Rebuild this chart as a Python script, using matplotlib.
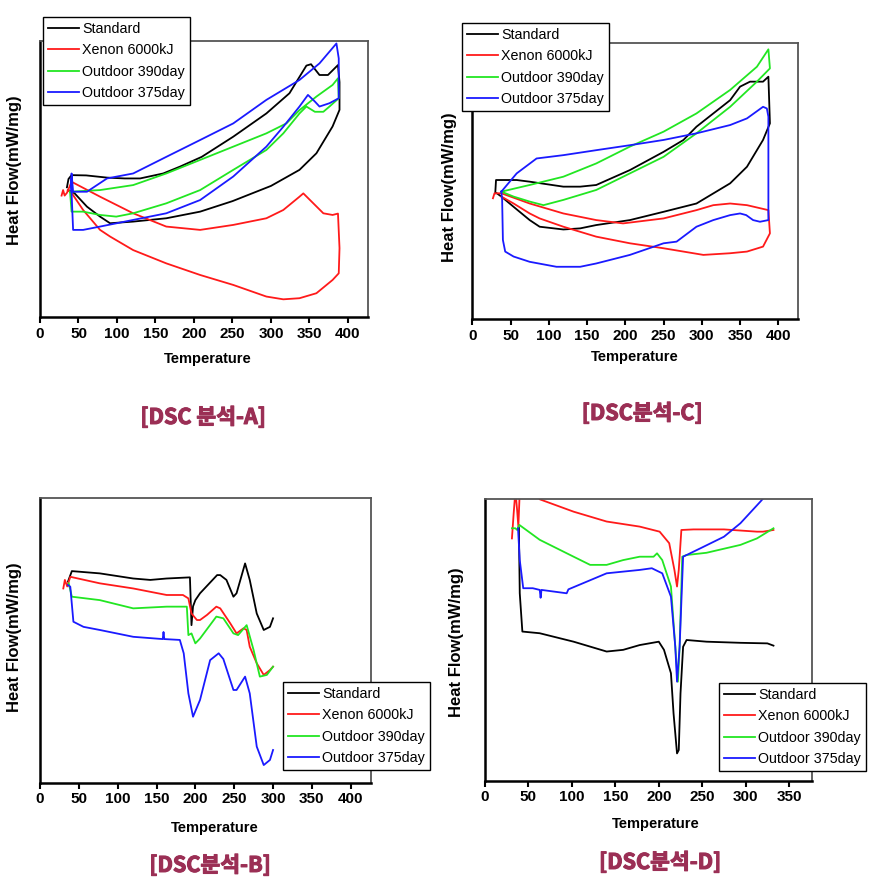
import matplotlib
matplotlib.use("Agg")
import matplotlib.pyplot as plt
import matplotlib.patheffects as pe

plt.rcParams['font.family'] = ['Liberation Sans', 'Noto Sans CJK KR', 'DejaVu Sans']

series_names = ["Standard", "Xenon 6000kJ", "Outdoor 390day", "Outdoor 375day"]
series_colors = ["black", "#ff1a1a", "#22e622", "#1a1aff"]

# ---- DSC A (top left) ----
a_std_t = [35, 37, 41, 60, 87, 110, 130, 160, 182, 210, 251, 294, 324, 346, 352, 363, 374, 387, 389, 389,
           380, 359, 337, 300, 250, 208, 164, 121, 91, 78, 61, 45, 37]
a_std_hf = [47, 50, 51.4, 51.3, 50.5, 50.2, 50.2, 52, 54.5, 58, 65.3, 73.7, 81, 91, 91.5, 87.6, 87.6, 91.2, 85, 75,
            69, 59.3, 53.3, 47.5, 42, 38.2, 35.8, 34.6, 34, 36.4, 40, 44.8, 46]
a_xen_t = [28, 30, 32, 35, 41, 78, 121, 164, 208, 251, 294, 316, 337, 342, 355, 368, 380, 387, 389, 388,
           380, 359, 337, 316, 294, 251, 208, 164, 121, 91, 78, 56, 41, 36]
a_xen_hf = [44, 46, 44, 45, 49, 43.6, 37.6, 32.8, 31.6, 33.4, 35.8, 38.8, 43.6, 44.8, 41.2, 37.6, 37, 37.5, 25, 15.9,
            13.5, 8.7, 6.9, 6.5, 7.5, 11.7, 15.3, 19.5, 24.3, 29.2, 31.6, 38.8, 45, 46]
a_o390_t = [39, 78, 121, 164, 208, 251, 294, 320, 337, 359, 380, 387, 388, 376, 368, 357, 346, 337, 316, 294,
            251, 208, 164, 121, 99, 78, 56, 41, 39]
a_o390_hf = [45.4, 46, 47.8, 52, 56.9, 61.7, 66.5, 70.1, 74.9, 79.8, 84, 86.4, 79.2, 76.2, 74.3, 74.3, 76.2, 73.7,
             66.5, 60.5, 53.3, 46, 41.2, 37.6, 36.4, 37, 38.2, 38.2, 45.4]
a_o375_t = [41, 41, 43, 61, 87, 121, 164, 208, 251, 294, 337, 363, 385, 388, 388, 376, 363, 357, 348, 337,
            316, 294, 251, 208, 164, 121, 78, 56, 43, 41, 40]
a_o375_hf = [45.4, 52, 45.4, 45.4, 50.2, 52, 58, 64.1, 70.1, 78.6, 85.8, 91.8, 99, 93.6, 79.2, 77.4, 76.2, 78,
             80.4, 76.2, 68.9, 61.7, 50.9, 42.4, 37.6, 35.2, 32.8, 31.6, 31.6, 45, 50]

# ---- DSC C (top right) ----
c_std_t = [30, 31, 38, 58, 75, 119, 141, 162, 206, 250, 276, 293, 315, 337, 350, 363, 380, 387, 389,
           380, 359, 337, 293, 250, 206, 162, 141, 119, 88, 75, 54, 38, 32]
c_std_hf = [45.5, 50.3, 50.3, 50.3, 49.7, 47.9, 47.9, 48.5, 53.9, 60.5, 64.8, 69.6, 74.4, 79.2, 84.1, 85.9, 85.9,
            87.7, 70.8, 64.8, 55.1, 49.1, 41.8, 38.8, 35.8, 34, 32.8, 32.4, 33.4, 35.8, 40.6, 44.3, 45.5]
c_xen_t = [27, 29, 38, 75, 119, 162, 197, 250, 293, 315, 337, 359, 387, 389, 380, 359, 337, 302, 250, 206,
           162, 119, 88, 75, 54, 38]
c_xen_hf = [43.7, 45.5, 45.5, 41.8, 38.2, 35.8, 34.6, 36.4, 39.4, 41.2, 41.8, 41.2, 39.4, 31, 26.2, 24.4, 23.8,
            23.2, 25.6, 27.4, 29.8, 33.4, 36.4, 38.2, 41.8, 44.3]
c_o390_t = [38, 75, 119, 162, 206, 250, 293, 337, 372, 387, 389, 372, 337, 293, 250, 206, 162, 119, 93, 75, 54, 38]
c_o390_hf = [46.1, 48.5, 51.5, 56.3, 62.4, 67.8, 74.4, 82.9, 91.3, 97.6, 90.7, 85.9, 76.8, 67.2, 58.7, 52.7,
             46.7, 43.1, 41.2, 42.5, 44.3, 46.1]
c_o375_t = [38, 58, 84, 119, 162, 206, 250, 293, 337, 359, 380, 385, 387, 387, 376, 367, 358, 350, 337, 315,
            293, 267, 250, 206, 162, 141, 110, 75, 54, 43, 40, 39, 38]
c_o375_hf = [46.1, 52.7, 58.1, 59.3, 61.1, 62.9, 64.8, 67.2, 70.2, 72.6, 76.8, 76.2, 73.2, 35.8, 35.2, 35.8,
             37.6, 38.2, 37.6, 35.8, 33.4, 28, 27.4, 23.2, 20.1, 18.9, 18.9, 20.7, 22.6, 24.4, 28.6, 43.1, 46.1]

# ---- DSC B (bottom left) ----
b_std_t = [36, 41, 77, 120, 142, 163, 193, 195, 197, 200, 206, 228, 232, 240, 249, 253, 264, 270, 279, 288, 296, 300]
b_std_hf = [70.7, 74.4, 73.6, 71.8, 71.3, 71.8, 72.2, 55.4, 62, 64.2, 66.6, 73, 73, 71.3, 65.4, 66.6, 77.1,
            71.3, 59.5, 53.7, 54.8, 57.8]
b_xen_t = [30, 32, 35, 39, 77, 120, 163, 184, 191, 195, 202, 206, 215, 227, 232, 245, 253, 262, 266, 270,
           279, 288, 296, 300]
b_xen_hf = [68.3, 71.3, 69, 72.4, 70.1, 68.3, 66, 66, 64.8, 59.5, 57.2, 57.2, 59, 61.9, 61.3, 56, 52.5, 54.3,
            53.7, 47.8, 42, 37.9, 39.6, 40.8]
b_o390_t = [37, 41, 77, 120, 163, 189, 191, 195, 200, 206, 227, 236, 249, 255, 266, 275, 283, 292, 300]
b_o390_hf = [70.1, 65.4, 64.2, 61.3, 61.9, 61.9, 51.9, 52.5, 49, 50.7, 58.4, 57.8, 52.5, 51.9, 55.4, 46.6,
             37.3, 37.9, 40.8]
b_o375_t = [36, 39, 43, 56, 77, 120, 158, 159, 160, 180, 185, 191, 197, 206, 219, 230, 236, 249, 253, 264,
            270, 279, 288, 296, 300]
b_o375_hf = [69.5, 68.9, 56.6, 54.8, 53.7, 51.3, 50.5, 53, 50.5, 50.2, 45.5, 31.4, 23.2, 29.1, 43.1, 45.5,
             43.5, 32.6, 32.6, 37.3, 31.4, 12.7, 6.2, 8, 11.5]

# ---- DSC D (bottom right) ----
d_std_t = [39, 40, 43, 63, 102, 140, 159, 178, 200, 206, 214, 217, 221, 223, 225, 228, 232, 255, 294, 325, 332]
d_std_hf = [90, 66.6, 53, 52.4, 49.4, 45.9, 46.5, 48.2, 49.4, 46.5, 38.2, 23.9, 9.7, 10.9, 31, 47.6, 50, 49.4,
            49, 48.8, 48]
d_xen_t = [31, 33, 35, 37, 38.4, 40, 45, 63, 102, 140, 178, 201, 212, 218, 221, 223, 226, 240, 275, 313, 320, 332]
d_xen_hf = [86.1, 95, 103, 96, 90.3, 103, 110, 100, 95.6, 92.1, 90.3, 88.5, 84.4, 74.9, 69, 74.9, 89.1, 89.3,
            89.3, 88.5, 88.5, 89.1]
d_o390_t = [31, 35, 37, 39.5, 63, 102, 121, 140, 159, 178, 194, 198, 204, 214, 219, 222, 224, 227, 232, 255,
            294, 313, 332]
d_o390_hf = [89.7, 89.7, 89.1, 90.9, 85.6, 79.6, 76.7, 76.7, 78.4, 79.6, 79.6, 80.8, 78.4, 69, 47.6, 35.2,
             47.6, 79.6, 80.2, 81, 83.8, 86.1, 89.7]
d_o375_t = [38, 40, 44, 55, 63, 64, 65, 94, 96, 113, 140, 178, 192, 204, 214, 219, 221, 224, 228, 248, 275,
            294, 317, 325]
d_o375_hf = [89.7, 78.4, 68.4, 68.4, 67.8, 65, 67.8, 66.6, 68, 70.2, 73.7, 74.9, 75.5, 73.7, 65.4, 47.6, 35.2,
             47.6, 79.6, 82.6, 86.7, 91.5, 99.2, 102]

panel_titles = ["[DSC 분석-A]", "[DSC분석-C]", "[DSC분석-B]", "[DSC분석-D]"]
title_color = "#9b2f55"

W, H = 879, 889
fig = plt.figure(figsize=(W / 100, H / 100), dpi=100)


def px_rect(x0, y0, x1, y1):
    return [x0 / W, 1 - y1 / H, (x1 - x0) / W, (y1 - y0) / H]


panels = [
    dict(rect=px_rect(40, 40.7, 368, 317.3), xmax=426, ticks=range(0, 401, 50),
         data=[(a_std_t, a_std_hf), (a_xen_t, a_xen_hf), (a_o390_t, a_o390_hf), (a_o375_t, a_o375_hf)],
         leg=(43, 17), ylab=(15, 170), xlab=(208, 359), title=(203, 417)),
    dict(rect=px_rect(472.3, 42.7, 798, 319), xmax=425.7, ticks=range(0, 401, 50),
         data=[(c_std_t, c_std_hf), (c_xen_t, c_xen_hf), (c_o390_t, c_o390_hf), (c_o375_t, c_o375_hf)],
         leg=(462, 23), ylab=(450, 187), xlab=(635, 357), title=(642, 413)),
    dict(rect=px_rect(40, 498.3, 370.7, 782.7), xmax=425.7, ticks=range(0, 401, 50),
         data=[(b_std_t, b_std_hf), (b_xen_t, b_xen_hf), (b_o390_t, b_o390_hf), (b_o375_t, b_o375_hf)],
         leg=(283, 682), ylab=(15, 637), xlab=(215, 828), title=(210, 865)),
    dict(rect=px_rect(485, 499.3, 811.7, 780.7), xmax=376, ticks=range(0, 351, 50),
         data=[(d_std_t, d_std_hf), (d_xen_t, d_xen_hf), (d_o390_t, d_o390_hf), (d_o375_t, d_o375_hf)],
         leg=(719, 683), ylab=(457, 642), xlab=(656, 824), title=(660, 862)),
]

for p, title in zip(panels, panel_titles):
    ax = fig.add_axes(p["rect"])
    handles = []
    for (t, hf), name, col in zip(p["data"], series_names, series_colors):
        ln, = ax.plot(t, hf, color=col, lw=1.3, label=name)
        handles.append(ln)
    ax.set_xlim(0, p["xmax"])
    ax.set_ylim(0, 100)
    ax.set_xticks(list(p["ticks"]))
    ax.set_yticks([])
    ax.tick_params(axis="x", direction="out", length=4, width=1.5, labelsize=11, pad=3)
    for lab in ax.get_xticklabels():
        lab.set_fontweight("bold")
    ax.spines["left"].set_linewidth(1.8)
    ax.spines["bottom"].set_linewidth(1.8)
    ax.spines["top"].set_color("#555555")
    ax.spines["right"].set_color("#555555")
    ax.spines["top"].set_linewidth(1.3)
    ax.spines["right"].set_linewidth(1.3)

    lx, ly = p["leg"]
    leg = fig.legend(handles=handles, loc="upper left", bbox_to_anchor=(lx / W, 1 - ly / H),
                     bbox_transform=fig.transFigure, fontsize=10.3, frameon=True, fancybox=False,
                     framealpha=1, edgecolor="black", borderaxespad=0, borderpad=0.35,
                     labelspacing=0.52, handlelength=2.2, handletextpad=0.2)
    leg.get_frame().set_linewidth(1.0)

    fig.text(p["ylab"][0] / W, 1 - p["ylab"][1] / H, "Heat Flow(mW/mg)", rotation=90,
             ha="center", va="center", fontsize=12, fontweight="bold")
    fig.text(p["xlab"][0] / W, 1 - p["xlab"][1] / H, "Temperature", ha="center", va="center",
             fontsize=10.5, fontweight="bold")
    fig.text(p["title"][0] / W, 1 - p["title"][1] / H, title, ha="center", va="center",
             fontsize=15.5, fontweight="bold", color=title_color,
             family=["Noto Sans CJK KR", "DejaVu Sans"],
             path_effects=[pe.withStroke(linewidth=0.8, foreground=title_color)])

fig.savefig("out.png", dpi=100)
